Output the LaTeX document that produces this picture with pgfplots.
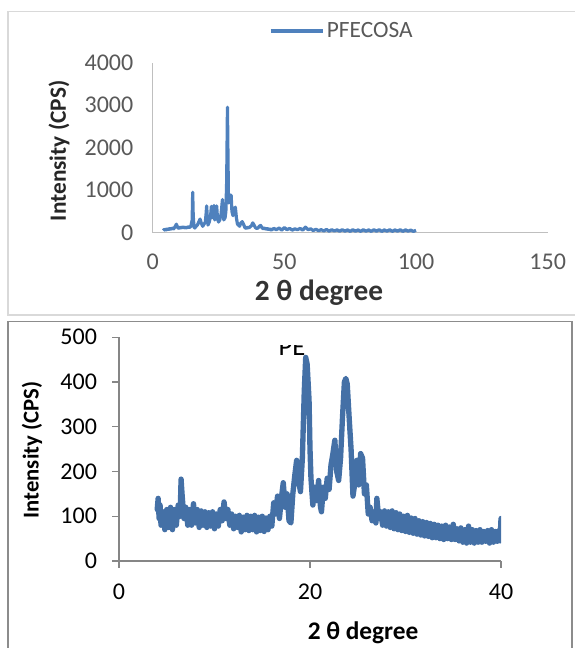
\documentclass[border=0pt]{standalone}
\usepackage{pgfplots}
\pgfplotsset{compat=1.18}
\usepackage{fontspec}
\setmainfont{Carlito}
\definecolor{topline}{HTML}{4F81BD}
\definecolor{peline}{HTML}{4470A6}
\definecolor{ticktxt}{HTML}{595959}
\definecolor{framelt}{HTML}{D9D9D9}
\definecolor{framedk}{HTML}{8C8C8C}
\definecolor{axtop}{HTML}{BFBFBF}
\definecolor{axbot}{HTML}{868686}

\begin{document}
\begin{tikzpicture}
\useasboundingbox (0pt,0pt) rectangle (430.5pt,486pt);
% chart frames
\draw[framelt, line width=1.1pt] (431pt,477.2pt) -- (6pt,477.2pt) -- (6pt,249.8pt) -- (431pt,249.8pt);
\draw[framedk, line width=0.9pt] (6pt,-1pt) -- (6pt,244.7pt) -- (429pt,244.7pt) -- (429pt,-1pt);

% top: PFECOSA
\begin{axis}[
  at={(114.5pt,311.5pt)}, anchor=south west,
  scale only axis, width=296.25pt, height=127.5pt,
  xmin=0, xmax=150, ymin=0, ymax=4000,
  xtick={0,50,100,150}, ytick={0,1000,2000,3000,4000},
  axis x line*=bottom, axis y line*=left,
  axis line style={axtop, line width=1pt, -},
  major tick length=0pt,
  /pgf/number format/1000 sep={},
  /pgf/number format/assume math mode=true,
  tick label style={font=\fontsize{18}{21}\selectfont, text=ticktxt},
  xticklabel shift=12.5pt, yticklabel shift=11pt,
  xlabel={\textbf{2 θ degree}},
  ylabel={\textbf{Intensity (CPS)}},
  xlabel style={font=\fontsize{22}{26}\selectfont, text=black!80, at={(axis description cs:0.421,-0.355)}, anchor=center},
  ylabel style={font=\fontsize{17.5}{20}\selectfont, text=black!85, at={(axis description cs:-0.237,0.481)}, anchor=center, rotate=0},
  legend style={at={(axis description cs:0.294,1.186)}, anchor=west, draw=none, fill=none,
    font=\fontsize{17.5}{20}\selectfont, text=ticktxt, inner sep=0pt},
  legend image code/.code={\draw[#1] (0pt,0pt) -- (39pt,0pt);},
]
\addplot[topline, line width=2.4pt, line join=round] coordinates {
(4,50) (4.5,80) (5,60) (5.5,90) (6,70) (6.5,100) (7,80) (7.5,110) (8,90) (8.5,140)
(9,200) (9.5,120) (10,100) (10.5,130) (11,110) (11.5,140) (12,110) (12.5,130) (13,110) (13.5,140)
(14,120) (14.5,150) (15,300) (15.2,950) (15.4,400) (15.7,130) (16,110) (16.5,150) (17,180) (17.5,250)
(18,320) (18.5,220) (19,150) (19.5,200) (20,250) (20.3,450) (20.5,630) (20.8,300) (21,180) (21.5,250)
(22,400) (22.3,620) (22.6,350) (23,450) (23.3,640) (23.6,300) (24,400) (24.3,630) (24.6,350) (25,250)
(25.5,300) (26,450) (26.5,780) (26.8,500) (27,300) (27.5,350) (27.8,500) (28.1,1200) (28.4,2950) (28.6,1800)
(28.8,700) (29.2,900) (29.5,700) (29.8,880) (30.1,500) (30.5,400) (31,550) (31.4,600) (31.8,350) (32.2,200)
(32.6,180) (33,150) (33.5,230) (34,260) (34.5,200) (35,120) (35.5,100) (36,130) (36.5,110) (37,140)
(37.5,160) (38,230) (38.5,180) (39,120) (39.5,100) (40,110) (40.5,150) (41,170) (41.5,120) (42,90)
(42.5,110) (43,80) (43.5,100) (44,70) (44.5,90) (45,60) (46,100) (47,70) (48,110) (49,60)
(50,120) (51,70) (52,100) (53,60) (54,90) (55,70) (56,100) (57,60) (58,130) (59,70)
(60,90) (61,50) (62,80) (63,45) (64,70) (65,40) (66,75) (67,35) (68,70) (69,40)
(70,65) (71,35) (72,70) (73,35) (74,65) (75,30) (76,70) (77,35) (78,65) (79,30)
(80,70) (81,35) (82,65) (83,30) (84,70) (85,35) (86,70) (87,30) (88,65) (89,35)
(90,70) (91,30) (92,65) (93,35) (94,70) (95,30) (96,65) (97,35) (98,60) (99,30) (100,55)
};
\addlegendentry{PFECOSA}
\end{axis}

% bottom: PE
\begin{scope}
\clip (150pt,200pt) rectangle (300pt,226.5pt);
\node[anchor=base, font=\fontsize{20}{24}\selectfont] at (219pt,219.5pt) {PE};
\end{scope}
\begin{axis}[
  at={(89.25pt,65.25pt)}, anchor=south west,
  scale only axis, width=286.5pt, height=167.8pt,
  xmin=0, xmax=40, ymin=0, ymax=500,
  xtick={0,20,40}, ytick={0,100,200,300,400,500},
  axis x line*=bottom, axis y line*=left,
  axis line style={axbot, line width=0.9pt, -},
  tick style={axbot, line width=0.9pt},
  tick align=outside, major tick length=5pt,
  /pgf/number format/assume math mode=true,
  tick label style={font=\fontsize{18}{21}\selectfont, text=black},
  xticklabel shift=9pt, yticklabel shift=8pt,
  xlabel={\textbf{2 θ degree}},
  ylabel={\textbf{Intensity (CPS)}},
  xlabel style={font=\fontsize{19}{22}\selectfont, at={(axis description cs:0.639,-0.322)}, anchor=center},
  ylabel style={font=\fontsize{17}{20}\selectfont, at={(axis description cs:-0.228,0.496)}, anchor=center, rotate=0},
]
\addplot[peline, line width=4pt, line join=round, line cap=round] coordinates {
(4.0,115) (4.1,140) (4.2,95) (4.3,125) (4.4,80) (4.6,110) (4.8,70) (5.0,115) (5.2,75) (5.4,120)
(5.6,70) (5.8,115) (6.0,80) (6.2,125) (6.4,100) (6.5,183) (6.6,150) (6.8,95) (7.0,120) (7.2,80)
(7.4,115) (7.6,80) (7.8,128) (8.0,85) (8.2,115) (8.4,75) (8.6,112) (8.8,80) (9.0,110) (9.2,75)
(9.4,108) (9.6,78) (9.8,110) (10.0,72) (10.2,105) (10.4,78) (10.6,115) (10.8,90) (11.0,132) (11.2,95)
(11.4,115) (11.6,80) (11.8,105) (12.0,72) (12.2,100) (12.4,75) (12.6,102) (12.8,65) (13.0,98) (13.2,70)
(13.4,102) (13.6,68) (13.8,100) (14.0,70) (14.2,102) (14.4,65) (14.6,98) (14.8,68) (15.0,100) (15.2,66)
(15.4,96) (15.6,70) (15.8,100) (16.0,78) (16.2,130) (16.4,105) (16.6,145) (16.8,95) (17.0,140) (17.2,175)
(17.4,120) (17.6,150) (17.8,90) (18.0,85) (18.2,150) (18.4,190) (18.6,225) (18.8,180) (19.0,155) (19.2,230)
(19.4,380) (19.55,455) (19.7,440) (19.9,360) (20.0,250) (20.1,185) (20.3,125) (20.5,165) (20.7,135) (20.9,180)
(21.1,120) (21.2,110) (21.4,165) (21.6,140) (21.8,185) (22.0,160) (22.2,215) (22.4,240) (22.6,270) (22.8,200)
(23.0,180) (23.2,230) (23.4,320) (23.6,400) (23.75,408) (23.9,395) (24.1,320) (24.3,250) (24.5,145) (24.7,175)
(24.9,225) (25.1,170) (25.3,240) (25.5,230) (25.7,150) (25.9,170) (26.1,105) (26.3,120) (26.5,90) (26.7,110)
(26.9,85) (27.0,140) (27.2,95) (27.4,110) (27.6,80) (27.8,112) (28.0,78) (28.2,110) (28.4,75) (28.6,112)
(28.8,72) (29.0,108) (29.2,70) (29.4,105) (29.6,68) (29.8,100) (30.0,66) (30.2,102) (30.4,64) (30.6,96)
(30.8,62) (31.0,95) (31.2,60) (31.4,90) (31.6,58) (31.8,88) (32.0,56) (32.2,86) (32.4,55) (32.6,84)
(32.8,52) (33.0,82) (33.2,52) (33.4,80) (33.6,50) (33.8,78) (34.0,48) (34.2,80) (34.4,50) (34.6,76)
(34.8,48) (35.0,82) (35.2,48) (35.4,72) (35.6,45) (35.8,74) (36.0,42) (36.2,70) (36.4,40) (36.6,78)
(36.8,42) (37.0,70) (37.2,40) (37.4,68) (37.6,42) (37.8,70) (38.0,42) (38.2,66) (38.4,44) (38.6,68)
(38.8,40) (39.0,70) (39.2,42) (39.4,66) (39.6,44) (39.8,68) (39.9,45) (40.0,95)
};
\end{axis}
\end{tikzpicture}
\end{document}
